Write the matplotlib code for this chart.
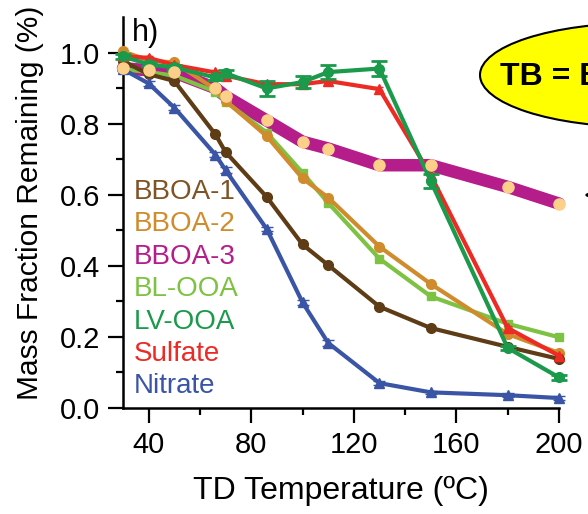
import matplotlib
matplotlib.use('Agg')
import matplotlib.pyplot as plt
from matplotlib.patches import Ellipse, FancyArrowPatch

plt.rcParams.update({
    'font.family': 'Liberation Sans',
})

# TD temperatures (degC)
temps = [30, 40, 50, 66, 70, 86, 100, 110, 130, 150, 180, 200]

bboa1 = [0.976, 0.939, 0.920, 0.770, 0.720, 0.594, 0.460, 0.402, 0.285, 0.225, 0.172, 0.138]
bboa2 = [1.003, 0.978, 0.972, 0.897, 0.864, 0.765, 0.646, 0.592, 0.454, 0.349, 0.208, 0.155]
bboa3 = [0.956, 0.950, 0.944, 0.900, 0.877, 0.809, 0.749, 0.730, 0.683, 0.683, 0.622, 0.575]
bl_ooa = [0.953, 0.945, 0.935, 0.890, 0.862, 0.775, 0.662, 0.577, 0.420, 0.314, 0.237, 0.199]
lv_ooa = [0.989, 0.967, 0.958, 0.930, 0.942, 0.899, 0.917, 0.945, 0.955, 0.638, 0.169, 0.086]
lv_err = [0.008, 0.006, 0.006, 0.008, 0.010, 0.020, 0.018, 0.020, 0.022, 0.019, 0.006, 0.006]
sulfate = [0.990, 0.985, 0.965, 0.944, 0.935, 0.911, 0.911, 0.920, 0.897, 0.655, 0.225, 0.147]
nitrate = [0.953, 0.913, 0.845, 0.713, 0.669, 0.504, 0.297, 0.183, 0.070, 0.044, 0.036, 0.028]
nit_err = [0.006, 0.006, 0.008, 0.008, 0.008, 0.006, 0.008, 0.008, 0.006, 0.005, 0.005, 0.005]

names = ['BBOA-1', 'BBOA-2', 'BBOA-3', 'BL-OOA', 'LV-OOA', 'Sulfate', 'Nitrate']
text_colors = ['#7f5424', '#d08c2c', '#b51d8b', '#7dc242', '#1a9a4a', '#ee2a24', '#3a55a5']

fig = plt.figure(figsize=(5.88, 5.14), dpi=100)
ax = fig.add_axes([123 / 588, 106 / 514, 436 / 588, 391 / 514])

# BBOA-3 : thick line, pale dots
ax.plot(temps, bboa3, color='#b51d8b', lw=9, solid_capstyle='round', zorder=2, clip_on=False)

ax.errorbar(temps, bl_ooa, yerr=0.006, color='#7dc242', lw=3, marker='s', ms=6,
            capsize=3, zorder=3, clip_on=False)
ax.errorbar(temps, bboa2, yerr=0.006, color='#d08c2c', lw=3, marker='o', ms=7,
            capsize=3, zorder=4, clip_on=False)
ax.errorbar(temps, bboa1, yerr=0.006, color='#5e3c16', lw=3, marker='o', ms=7,
            capsize=3, zorder=5, clip_on=False)
ax.errorbar(temps, nitrate, yerr=nit_err, color='#3a55a5', lw=3, marker='^', ms=7,
            capsize=4, zorder=6, clip_on=False)
ax.errorbar(temps, sulfate, yerr=0.006, color='#ee2a24', lw=3, marker='^', ms=7,
            capsize=3, zorder=7, clip_on=False)
ax.errorbar(temps, lv_ooa, yerr=lv_err, color='#1a9a4a', lw=3, marker='o', ms=7,
            capsize=6, capthick=2, zorder=8, clip_on=False)
ax.plot(temps, bboa3, ls='none', marker='o', ms=8, color='#fdd08a', zorder=9, clip_on=False)

ax.set_xlim(30, 200)
ax.set_ylim(0, 1.1)
ax.set_xticks([40, 80, 120, 160, 200])
ax.set_xticks([60, 100, 140, 180], minor=True)
ax.set_yticks([0.0, 0.2, 0.4, 0.6, 0.8, 1.0])
ax.set_yticks([0.1, 0.3, 0.5, 0.7, 0.9], minor=True)
ax.set_yticklabels(['0.0', '0.2', '0.4', '0.6', '0.8', '1.0'])
for s in ['top', 'right']:
    ax.spines[s].set_visible(False)
for s in ['left', 'bottom']:
    ax.spines[s].set_linewidth(1.8)
ax.tick_params(which='major', direction='out', length=10.5, width=1.6, labelsize=21, pad=6)
ax.tick_params(which='minor', direction='out', length=5, width=1.6)

ax.set_xlabel('TD Temperature (ºC)', fontsize=23, labelpad=12)
fig.text(30 / 588, 114 / 514, 'Mass Fraction Remaining (%)', rotation=90,
         ha='center', va='bottom', fontsize=21.5)

fig.text(132 / 588, 1 - 18 / 514, 'h)', fontsize=22, va='top', ha='left')

for i, (name, col) in enumerate(zip(names, text_colors)):
    y = 1 - (192 + i * 32.4) / 514
    fig.text(134 / 588, y, name, color=col, fontsize=20, va='center', ha='left')

# callout (cut by the figure edge)
ell = Ellipse((640 / 588, 1 - 75 / 514), 320 / 588, 104 / 514, transform=fig.transFigure,
              facecolor='#ffff00', edgecolor='black', lw=1.5, clip_on=False)
fig.add_artist(ell)
fig.text(500 / 588, 1 - 77 / 514, 'TB = B', fontsize=23, fontweight='bold', va='center', ha='left')
fig.add_artist(FancyArrowPatch(
    (640 / 588, 1 - 195 / 514), (581 / 588, 1 - 195 / 514), transform=fig.transFigure,
    arrowstyle='-|>', mutation_scale=24, color='black', lw=2))

fig.savefig('out.png', dpi=100)
